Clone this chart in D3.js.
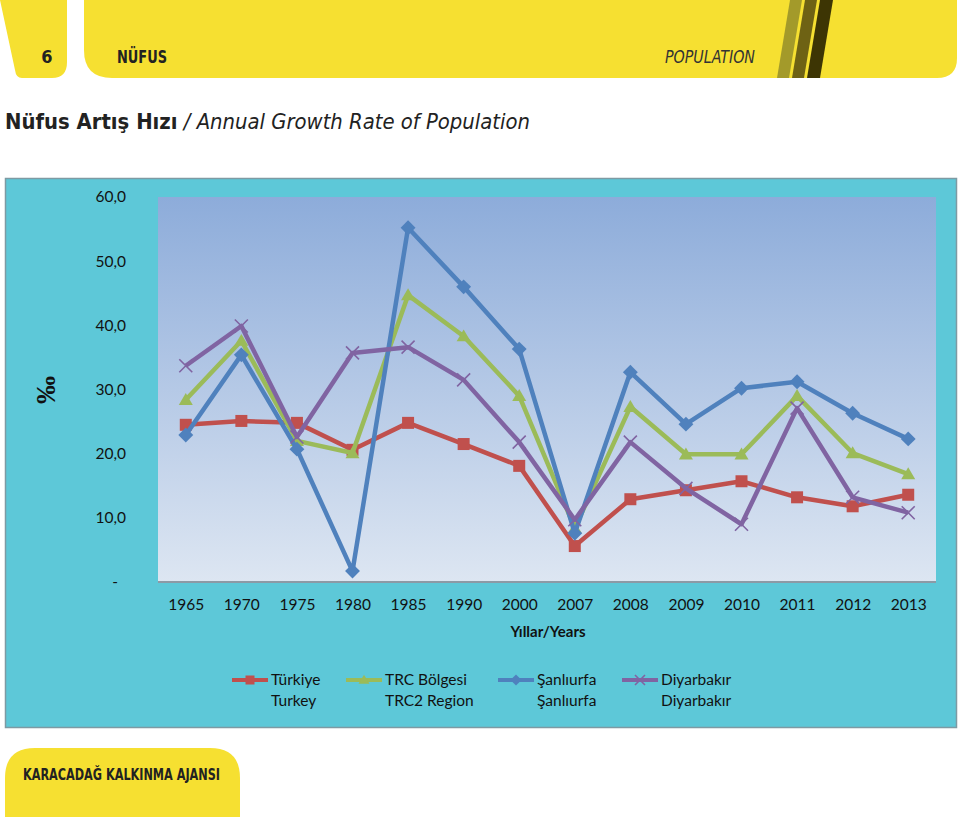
<!DOCTYPE html>
<html>
<head>
<meta charset="utf-8">
<script src="https://cdn.jsdelivr.net/npm/d3@7"></script>
<style>
  body { margin: 0; background: #fff; }
  svg { display: block; }
</style>
</head>
<body>
<script>
"use strict";

// categories and series (per mille)
var years = ["1965","1970","1975","1980","1985","1990","2000","2007","2008","2009","2010","2011","2012","2013"];
var turkiye    = [24.5, 25.1, 24.8, 20.6, 24.8, 21.5, 18.1, 5.6, 12.9, 14.3, 15.7, 13.2, 11.8, 13.6];
var trc        = [28.4, 37.6, 22.0, 20.1, 44.7, 38.3, 29.0, 8.4, 27.3, 19.9, 19.9, 29.0, 20.1, 16.8];
var sanliurfa  = [22.9, 35.4, 20.7, 1.7, 55.2, 46.0, 36.3, 7.6, 32.7, 24.6, 30.2, 31.2, 26.3, 22.3];
var diyarbakir = [33.7, 39.9, 22.6, 35.7, 36.6, 31.5, 21.8, 9.7, 21.8, 14.6, 9.0, 27.1, 13.2, 10.8];
var yTicks = [0, 10, 20, 30, 40, 50, 60];

var series = [
  {name: "Türkiye",    en: "Turkey",      values: turkiye,    color: "#C0504D", marker: "square"},
  {name: "TRC Bölgesi", en: "TRC2 Region", values: trc,        color: "#9BBB59", marker: "triangle"},
  {name: "Şanlıurfa",  en: "Şanlıurfa",   values: sanliurfa,  color: "#4F81BD", marker: "diamond"},
  {name: "Diyarbakır", en: "Diyarbakır",  values: diyarbakir, color: "#8064A2", marker: "cross"}
];

var W = 960, H = 817;
var svg = d3.select("body").append("svg").attr("width", W).attr("height", H);
var defs = svg.append("defs");

var yellow = "#F6E031";

// ---- header band
svg.append("path")
  .attr("d", "M0,0 L67,0 L67,62 Q67,78 52,78 L22,78 Q16,78 15,70 Z")
  .attr("fill", yellow);
svg.append("path")
  .attr("d", "M84,0 L957,0 L957,58 Q957,78 937,78 L112,78 Q84,78 84,50 Z")
  .attr("fill", yellow);
var stripes = [
  {x0: 790, x1: 802, c: "#A39A2A"},
  {x0: 805, x1: 817, c: "#6E6214"},
  {x0: 820, x1: 833, c: "#3D3504"}
];
stripes.forEach(function(s) {
  svg.append("path")
    .attr("d", "M" + s.x0 + ",0 L" + s.x1 + ",0 L" + (s.x1 - 13) + ",78 L" + (s.x0 - 13) + ",78 Z")
    .attr("fill", s.c);
});
svg.append("text").attr("x", 47).attr("y", 63).attr("text-anchor", "middle")
  .style("font-family", "'DejaVu Sans Condensed'").style("font-weight", "bold")
  .style("font-size", "18px").attr("fill", "#222").text("6");
svg.append("text").attr("x", 117).attr("y", 63)
  .attr("textLength", 50).attr("lengthAdjust", "spacingAndGlyphs")
  .style("font-family", "'DejaVu Sans Condensed'").style("font-weight", "bold")
  .style("font-size", "18px").attr("fill", "#222").text("NÜFUS");
svg.append("text").attr("x", 665).attr("y", 63)
  .attr("textLength", 90).attr("lengthAdjust", "spacingAndGlyphs")
  .style("font-family", "'DejaVu Sans Condensed'").style("font-style", "italic")
  .style("font-size", "18px").attr("fill", "#333").text("POPULATION");

// ---- title
var title = svg.append("text").attr("x", 5).attr("y", 129)
  .attr("textLength", 525).attr("lengthAdjust", "spacingAndGlyphs")
  .style("font-family", "'DejaVu Sans Condensed'").style("font-size", "22px").attr("fill", "#222");
title.append("tspan").style("font-weight", "bold").text("Nüfus Artış Hızı");
title.append("tspan").style("font-style", "italic").text(" / Annual Growth Rate of Population");

// ---- chart box
svg.append("rect").attr("x", 5.5).attr("y", 178.5).attr("width", 951).attr("height", 549)
  .attr("fill", "#5DC8D8").attr("stroke", "#7E9AA3").attr("stroke-width", 1.5);

var plot = {left: 158, right: 936, top: 197, bottom: 582};

var grad = defs.append("linearGradient").attr("id", "plotGrad")
  .attr("x1", 0).attr("y1", 0).attr("x2", 0).attr("y2", 1);
grad.append("stop").attr("offset", "0%").attr("stop-color", "#8DACDA");
grad.append("stop").attr("offset", "100%").attr("stop-color", "#DDE6F2");

svg.append("rect").attr("x", plot.left).attr("y", plot.top)
  .attr("width", plot.right - plot.left).attr("height", plot.bottom - plot.top)
  .attr("fill", "url(#plotGrad)");

var xScale = d3.scalePoint().domain(years).range([plot.left, plot.right]).padding(0.5);
var yScale = d3.scaleLinear().domain([0, 60]).range([plot.bottom, plot.top]);

var fmt = d3.format(".1f");
var yAxis = d3.axisLeft(yScale).tickValues(yTicks).tickSize(0).tickPadding(0)
  .tickFormat(function(d) { return d === 0 ? "-" : fmt(d).replace(".", ","); });
var gY = svg.append("g").attr("transform", "translate(126,0)").call(yAxis);
gY.select(".domain").remove();
gY.selectAll("text")
  .style("font-family", "Lato, 'Open Sans', sans-serif").style("font-size", "15.5px").attr("fill", "#111");
gY.selectAll(".tick").filter(function(d) { return d === 0; }).select("text").attr("x", -8);

var xAxis = d3.axisBottom(xScale).tickSize(0).tickPadding(17);
var gX = svg.append("g").attr("transform", "translate(0," + plot.bottom + ")").call(xAxis);
gX.select(".domain").attr("stroke", "#8C9AA6").attr("stroke-width", 2)
  .attr("d", "M" + plot.left + ",0H" + plot.right);
gX.selectAll("text")
  .style("font-family", "Lato, 'Open Sans', sans-serif").style("font-size", "15.5px").attr("fill", "#111");

svg.append("text").attr("x", 548).attr("y", 637).attr("text-anchor", "middle")
  .style("font-family", "Lato, 'Open Sans', sans-serif").style("font-weight", "bold")
  .style("font-size", "15px").attr("fill", "#111").text("Yıllar/Years");

svg.append("text").attr("transform", "translate(55,390) rotate(-90)").attr("text-anchor", "middle")
  .style("font-family", "'Liberation Serif', serif").style("font-weight", "bold")
  .style("font-size", "28px").attr("fill", "#111").text("‰");

// ---- markers
function drawMarker(g, type, color, x, y, s) {
  if (type === "square") {
    g.append("rect").attr("x", x - s / 2).attr("y", y - s / 2).attr("width", s).attr("height", s).attr("fill", color);
  } else if (type === "triangle") {
    var h = s * 0.95;
    g.append("path").attr("d", "M" + x + "," + (y - h * 0.6) + "L" + (x + s / 2 + 1) + "," + (y + h * 0.45) + "L" + (x - s / 2 - 1) + "," + (y + h * 0.45) + "Z").attr("fill", color);
  } else if (type === "diamond") {
    var r = s * 0.62;
    g.append("path").attr("d", "M" + x + "," + (y - r) + "L" + (x + r) + "," + y + "L" + x + "," + (y + r) + "L" + (x - r) + "," + y + "Z").attr("fill", color);
  } else {
    var c = s / 2;
    g.append("path").attr("d", "M" + (x - c) + "," + (y - c) + "L" + (x + c) + "," + (y + c) + "M" + (x + c) + "," + (y - c) + "L" + (x - c) + "," + (y + c))
      .attr("stroke", color).attr("stroke-width", 1.6).attr("fill", "none");
  }
}

var line = d3.line()
  .x(function(d, i) { return xScale(years[i]); })
  .y(function(d) { return yScale(d); });

series.forEach(function(s) {
  var g = svg.append("g");
  g.append("path").datum(s.values).attr("d", line)
    .attr("fill", "none").attr("stroke", s.color).attr("stroke-width", 4.5).attr("stroke-linejoin", "round");
  s.values.forEach(function(v, i) {
    drawMarker(g, s.marker, s.color, xScale(years[i]), yScale(v), s.marker === "cross" ? 13 : 12);
  });
});

// ---- legend
var legendX = [232, 346, 498, 622];
series.forEach(function(s, i) {
  var g = svg.append("g").attr("transform", "translate(" + legendX[i] + ",0)");
  g.append("line").attr("x1", 0).attr("x2", 36).attr("y1", 680).attr("y2", 680)
    .attr("stroke", s.color).attr("stroke-width", 4);
  drawMarker(g, s.marker, s.color, 18, 680, s.marker === "cross" ? 10 : 9);
  g.append("text").attr("x", 39).attr("y", 685)
    .style("font-family", "Lato, 'Open Sans', sans-serif").style("font-size", "15.5px").attr("fill", "#111").text(s.name);
  g.append("text").attr("x", 39).attr("y", 706)
    .style("font-family", "Lato, 'Open Sans', sans-serif").style("font-size", "15.5px").attr("fill", "#111").text(s.en);
});

// ---- footer
svg.append("path")
  .attr("d", "M5,817 L5,778 Q5,748 35,748 L210,748 Q240,748 240,778 L240,817 Z")
  .attr("fill", yellow);
svg.append("text").attr("x", 23).attr("y", 780)
  .attr("textLength", 197).attr("lengthAdjust", "spacingAndGlyphs")
  .style("font-family", "'DejaVu Sans Condensed'").style("font-weight", "bold")
  .style("font-size", "16px").attr("fill", "#222").text("KARACADAĞ KALKINMA AJANSI");
</script>
</body>
</html>
